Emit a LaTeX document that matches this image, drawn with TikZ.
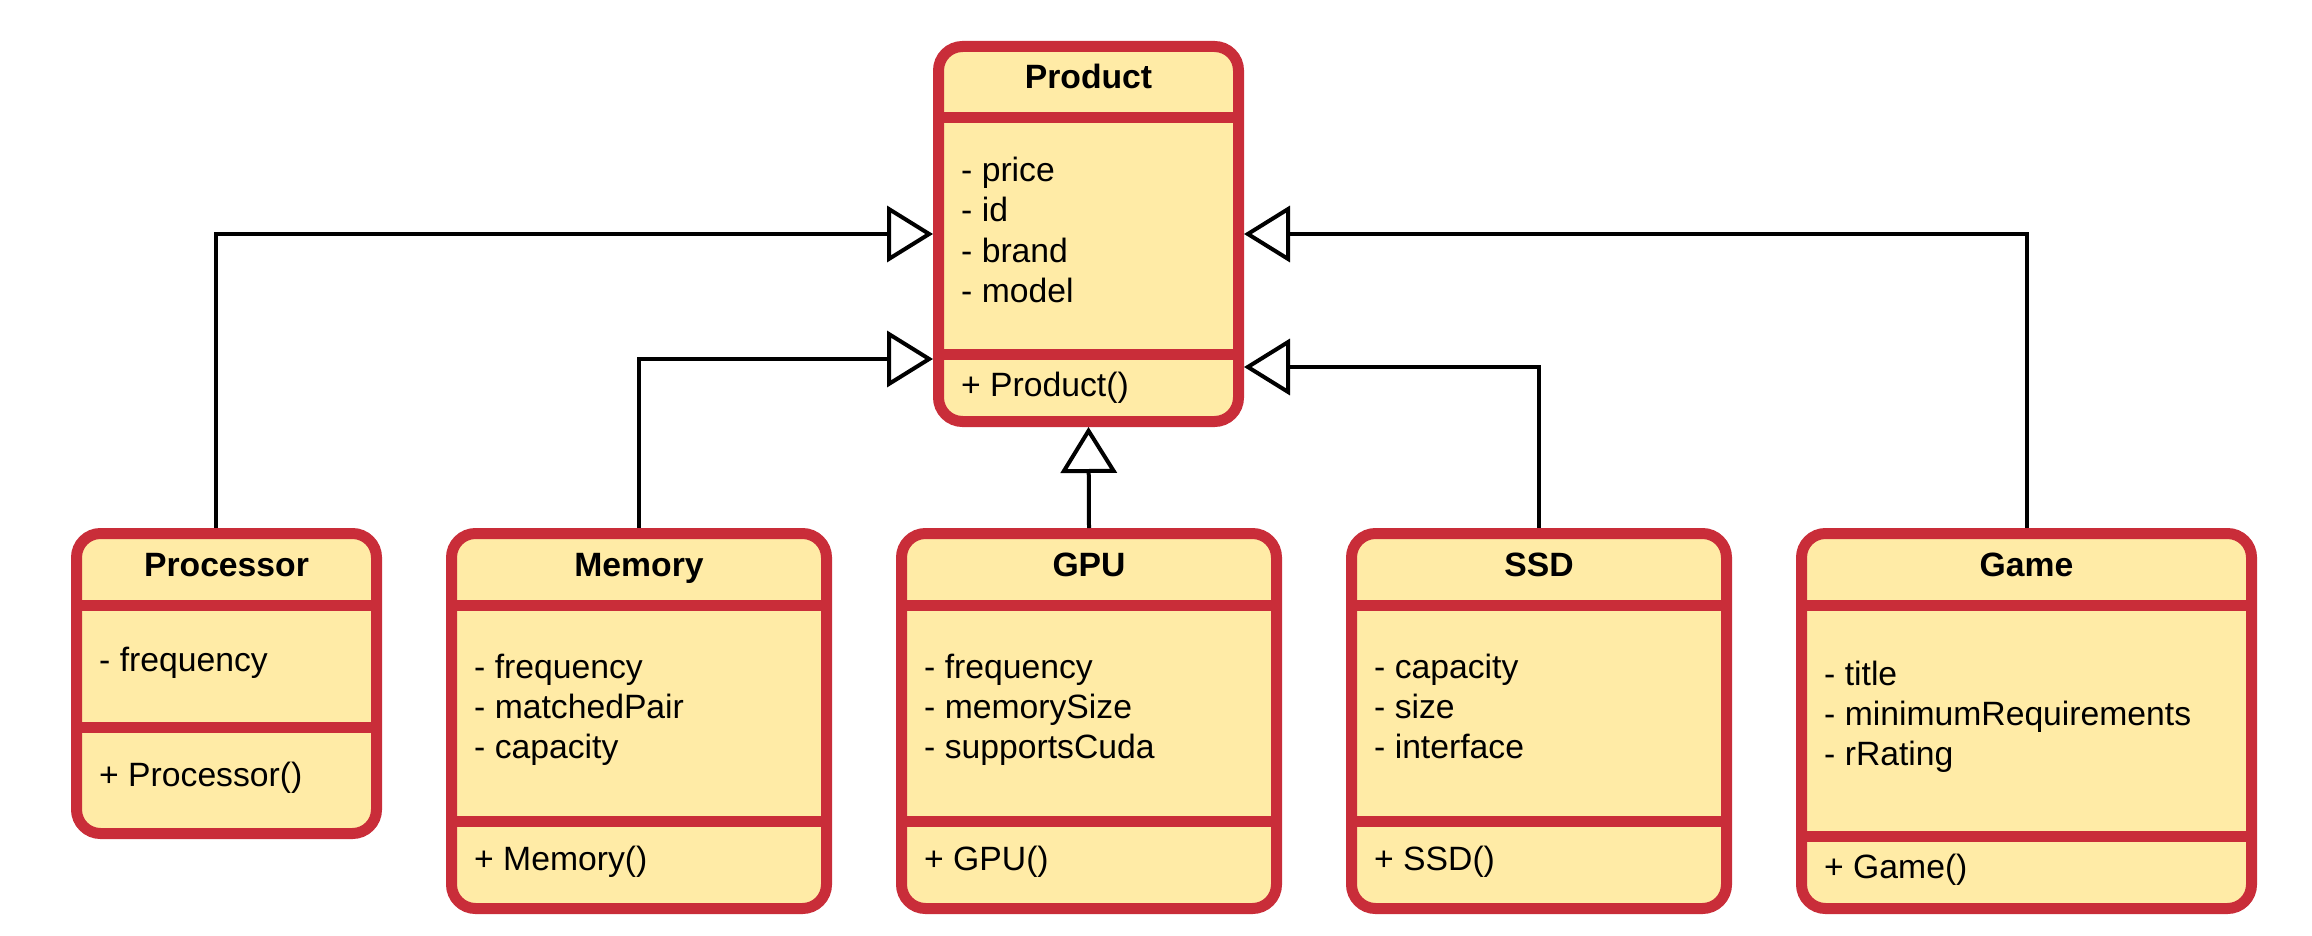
\documentclass[tikz,border=0pt]{standalone}
\usepackage{fontspec}
\setmainfont{Liberation Sans}
\usetikzlibrary{arrows.meta}
\definecolor{boxfill}{RGB}{255,235,166}
\definecolor{boxline}{RGB}{201,45,57}
\tikzset{
  classbox/.style={draw=boxline, fill=boxfill, line width=11pt, rounded corners=24pt, inner sep=0pt},
  sepline/.style={draw=boxline, line width=11pt, line cap=butt},
  titletext/.style={anchor=base, inner sep=0pt, font=\fontsize{33.7}{40.3}\selectfont\bfseries},
  bodytext/.style={anchor=base west, inner sep=0pt, font=\fontsize{33.7}{40.3}\selectfont},
  inh/.style={draw=black, line width=4pt, -{Triangle[open, length=46pt, width=56pt]}}
}
\begin{document}
\begin{tikzpicture}[x=1pt, y=-1pt]
\useasboundingbox (0,0) rectangle (2312,936);
% Product
\node[classbox, minimum width=300pt, minimum height=375pt] (prod) at (1088.5,234) {};
\draw[sepline] (prod.west |- 0,117.5) -- (prod.east |- 0,117.5);
\draw[sepline] (prod.west |- 0,354) -- (prod.east |- 0,354);
\node[titletext] (prodt) at (1088.5,89) {Product};
\node[bodytext] (proda) at (961,181.5) {\begin{tabular}[t]{@{}l@{}}- price\\- id\\- brand\\- model\end{tabular}};
\node[bodytext] (prodm) at (961,396) {+ Product()};
% Processor
\node[classbox, minimum width=300pt, minimum height=300pt] (proc) at (226.5,683.5) {};
\draw[sepline] (proc.west |- 0,605.5) -- (proc.east |- 0,605.5);
\draw[sepline] (proc.west |- 0,727.5) -- (proc.east |- 0,727.5);
\node[titletext] (proct) at (226.5,576) {Processor};
\node[bodytext] (proca) at (99,671) {- frequency};
\node[bodytext] (procm) at (99,786) {+ Processor()};
% Memory
\node[classbox, minimum width=375pt, minimum height=375pt] (mem) at (639,721) {};
\draw[sepline] (mem.west |- 0,605.5) -- (mem.east |- 0,605.5);
\draw[sepline] (mem.west |- 0,821) -- (mem.east |- 0,821);
\node[titletext] (memt) at (639,576) {Memory};
\node[bodytext] (mema) at (474,678) {\begin{tabular}[t]{@{}l@{}}- frequency\\- matchedPair\\- capacity\end{tabular}};
\node[bodytext] (memm) at (474,870) {+ Memory()};
% GPU
\node[classbox, minimum width=375pt, minimum height=375pt] (gpu) at (1089,721) {};
\draw[sepline] (gpu.west |- 0,605.5) -- (gpu.east |- 0,605.5);
\draw[sepline] (gpu.west |- 0,821) -- (gpu.east |- 0,821);
\node[titletext] (gput) at (1089,576) {GPU};
\node[bodytext] (gpua) at (924,678) {\begin{tabular}[t]{@{}l@{}}- frequency\\- memorySize\\- supportsCuda\end{tabular}};
\node[bodytext] (gpum) at (924,870) {+ GPU()};
% SSD
\node[classbox, minimum width=375pt, minimum height=375pt] (ssd) at (1539,721) {};
\draw[sepline] (ssd.west |- 0,605.5) -- (ssd.east |- 0,605.5);
\draw[sepline] (ssd.west |- 0,821) -- (ssd.east |- 0,821);
\node[titletext] (ssdt) at (1539,576) {SSD};
\node[bodytext] (ssda) at (1374,678) {\begin{tabular}[t]{@{}l@{}}- capacity\\- size\\- interface\end{tabular}};
\node[bodytext] (ssdm) at (1374,870) {+ SSD()};
% Game
\node[classbox, minimum width=450pt, minimum height=375pt] (game) at (2026.5,721) {};
\draw[sepline] (game.west |- 0,605.5) -- (game.east |- 0,605.5);
\draw[sepline] (game.west |- 0,836) -- (game.east |- 0,836);
\node[titletext] (gamet) at (2026.5,576) {Game};
\node[bodytext] (gamea) at (1824,685) {\begin{tabular}[t]{@{}l@{}}- title\\- minimumRequirements\\- rRating\end{tabular}};
\node[bodytext] (gamem) at (1824,878) {+ Game()};
% Inheritance connectors
\draw[inh] ([xshift=-10.5pt]proc.north) |- (prod.west);
\draw[inh] (mem.north) |- ([yshift=-125pt]prod.west);
\draw[inh] (gpu.north) -- (prod.south);
\draw[inh] (ssd.north) |- ([yshift=-133pt]prod.east);
\draw[inh] (game.north) |- (prod.east);
\end{tikzpicture}
\end{document}
